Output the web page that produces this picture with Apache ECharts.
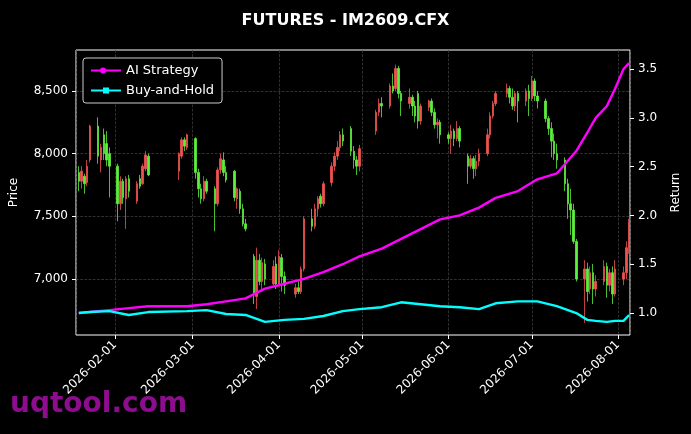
<!DOCTYPE html>
<html>
<head>
<meta charset="utf-8">
<script src="https://cdn.jsdelivr.net/npm/echarts@6/dist/echarts.min.js"></script>
<style>
  html, body { margin: 0; padding: 0; background: #000; }
  #chart { width: 691px; height: 434px; }
</style>
</head>
<body>
<div id="chart"></div>
<script>
// closed days inside the range (Spring Festival, Qingming, Labour Day, Dragon Boat)
var holidays = ["2026-02-16", "2026-02-17", "2026-02-18", "2026-02-19", "2026-02-20", "2026-02-23",
  "2026-04-06", "2026-05-01", "2026-05-04", "2026-05-05", "2026-06-19"];

// daily candles: [open, close, low, high]
var candles = [
  [7850,7780,7700,7900],[7780,7860,7720,7900],[7820,7760,7680,7840],[7770,7900,7740,7950],[7950,8220,7930,8230],
  [8220,7980,7920,8290],[7950,8050,7850,8080],[8150,8000,7950,8200],[8080,7950,7900,8180],[8000,7900,7650,8050],
  [7900,7600,7460,7920],[7600,7780,7550,7820],[7780,7650,7600,7800],[7640,7800,7400,7820],[7800,7700,7650,7830],
  [7620,7760,7600,7780],[7800,7740,7720,7830],[7760,7900,7750,7920],[7880,7990,7860,8020],[7980,7830,7820,8000],
  [7860,8000,7790,8010],[7980,8110,7960,8130],[8110,8060,8020,8130],[8050,8150,8030,8160],
  [8120,7850,7800,8130],[7850,7720,7650,7880],[7720,7640,7600,7760],[7640,7780,7620,7820],[7780,7700,7680,7800],
  [7720,7600,7380,7740],[7600,7870,7580,7890],[7870,7960,7840,8000],[7950,7850,7820,8010],[7850,7790,7770,7900],
  [7860,7650,7620,7870],[7640,7720,7560,7730],[7700,7560,7520,7720],[7560,7440,7420,7600],[7440,7400,7380,7480],
  [7180,6880,6800,7200],[6860,7150,6760,7250],[7150,6980,6950,7200],[6980,7130,6900,7170],[7120,7000,6950,7160],
  [6960,7100,6950,7150],[7120,6960,6920,7180],[6960,7180,6940,7230],[7170,7020,6900,7200],[7020,6950,6880,7060],
  [6880,6930,6850,6960],[6930,6900,6880,6980],[6900,7080,6880,7100],[7080,7480,7060,7500],
  [7480,7420,7380,7560],[7420,7560,7400,7600],[7560,7640,7500,7660],[7660,7600,7570,7680],[7600,7760,7580,7780],
  [7770,7900,7740,7930],[7900,7980,7860,8010],[7980,8050,7950,8100],[8050,8150,8020,8180],[8150,8100,8060,8200],
  [8200,8020,7980,8220],[8020,7950,7880,8060],[7950,7900,7830,7980],[7900,8040,7860,8070],
  [8180,8330,8150,8350],[8330,8400,8300,8440],[8400,8380,8290,8450],
  [8380,8540,8360,8560],[8540,8500,8480,8640],[8520,8680,8500,8710],[8680,8480,8440,8700],[8480,8420,8300,8500],
  [8400,8450,8360,8520],[8450,8380,8300,8470],[8380,8300,8250,8420],[8480,8260,8200,8500],[8260,8380,8230,8400],
  [8370,8420,8340,8430],[8420,8330,8300,8440],[8330,8230,8200,8360],[8230,8250,8120,8280],[8250,8150,8080,8270],
  [8150,8120,8080,8170],[8120,8180,8000,8230],[8180,8120,8060,8200],[8120,8200,8100,8260],[8200,8100,8050,8220],
  [7980,7900,7760,8000],[7900,7960,7880,7990],[7960,7880,7800,7980],[7880,7940,7820,7990],[7940,8000,7900,8040],
  [8000,8150,7980,8200],[8150,8300,8120,8330],[8300,8400,8280,8420],[8400,8480,8380,8500],
  [8480,8520,8450,8560],[8520,8450,8400,8540],[8450,8380,8350,8520],[8380,8480,8340,8500],[8480,8420,8250,8500],
  [8420,8500,8380,8520],[8500,8440,8300,8550],[8440,8580,8420,8620],[8580,8460,8420,8600],[8460,8420,8360,8500],
  [8420,8280,8250,8440],[8280,8200,8150,8300],[8200,8100,7970,8250],[8100,8000,7950,8160],[8000,7950,7880,8080],
  [7950,7760,7700,7970],[7760,7600,7480,7800],[7600,7550,7350,7720],[7550,7300,7280,7600],[7300,7000,6980,7320],
  [7000,7080,6650,7150],[7080,6900,6820,7130],[6920,7050,6880,7100],[7050,6920,6800,7120],[6920,6980,6860,7030],
  [6980,7100,6950,7150],[7100,6950,6850,7130],[6950,7050,6900,7080],[7050,6880,6800,7100],[6880,7080,6860,7150],
  [7000,7050,6950,7100],[7050,7250,7000,7300],[7250,7450,7200,7480]
];

// return curves, read at the dates below
var retDates = ["2026-01-19","2026-01-23","2026-01-30","2026-02-06","2026-02-13","2026-02-27","2026-03-06","2026-03-13",
  "2026-03-20","2026-03-27","2026-04-03","2026-04-10","2026-04-17","2026-04-24","2026-04-30","2026-05-08","2026-05-15",
  "2026-05-22","2026-05-29","2026-06-05","2026-06-12","2026-06-18","2026-06-26","2026-07-03","2026-07-10","2026-07-17",
  "2026-07-21","2026-07-24","2026-07-28","2026-07-31","2026-08-03","2026-08-05"];
var aiStrategy = [1.00,1.01,1.03,1.05,1.07,1.07,1.09,1.12,1.15,1.25,1.30,1.35,1.42,1.50,1.58,1.66,1.76,1.86,1.96,2.00,2.08,2.18,2.25,2.37,2.43,2.66,2.85,3.00,3.12,3.30,3.50,3.56];
var buyHold = [1.00,1.01,1.02,0.98,1.01,1.02,1.03,0.99,0.98,0.91,0.93,0.94,0.97,1.02,1.04,1.06,1.11,1.09,1.07,1.06,1.04,1.10,1.12,1.12,1.07,1.00,0.93,0.92,0.91,0.92,0.92,0.98];

var priceTicks = [7000, 7500, 8000, 8500];
var returnTicks = [1.0, 1.5, 2.0, 2.5, 3.0, 3.5];

// list trading days
var days = [];
var d = new Date(Date.UTC(2026, 0, 19));
while (days.length < candles.length) {
  var s = d.toISOString().slice(0, 10);
  var wd = d.getUTCDay();
  if (wd !== 0 && wd !== 6 && holidays.indexOf(s) < 0) days.push(s);
  d.setUTCDate(d.getUTCDate() + 1);
}

var candleData = candles.map(function (c, i) { return [days[i]].concat(c); });
var aiData = retDates.map(function (t, i) { return [t, aiStrategy[i]]; });
var bhData = retDates.map(function (t, i) { return [t, buyHold[i]]; });

var chart = echarts.init(document.getElementById("chart"));
var font = "DejaVu Sans";
chart.setOption({
  backgroundColor: "#000",
  animation: false,
  textStyle: { fontFamily: font, color: "#fff" },
  title: {
    text: "FUTURES - IM2609.CFX", left: "center", top: 8,
    textStyle: { color: "#fff", fontSize: 16, fontWeight: "bold", fontFamily: font }
  },
  graphic: [{
    type: "text", left: 10, top: 391,
    style: { text: "uqtool.com", fill: "#8e0c8e", font: "bold 28px DejaVu Sans" }
  }],
  legend: {
    orient: "vertical", left: 83, top: 58, padding: [6, 8, 6, 8], itemGap: 7,
    backgroundColor: "#000", borderColor: "#ccc", borderWidth: 1, borderRadius: 3,
    itemWidth: 30, itemHeight: 10,
    textStyle: { color: "#fff", fontSize: 13, fontFamily: font },
    data: [
      { name: "AI Strategy", icon: "path://M0,4 L30,4 L30,6 L0,6 Z M12,2 A3,3 0 1,1 12,8 A3,3 0 1,1 12,2 Z", itemStyle: { color: "#ff00ff" } },
      { name: "Buy-and-Hold", icon: "path://M0,4 L30,4 L30,6 L0,6 Z M12,2 L18,2 L18,8 L12,8 Z", itemStyle: { color: "#00ffff" } }
    ]
  },
  grid: { left: 75, right: 61, top: 50, bottom: 99, show: true, borderColor: "#fff", borderWidth: 1 },
  xAxis: {
    type: "time",
    min: "2026-01-18", max: "2026-08-05 08:00",
    splitNumber: 7,
    axisLine: { show: false },
    axisTick: { show: true, lineStyle: { color: "#fff" }, length: 4 },
    axisLabel: { color: "#fff", fontSize: 12, rotate: 45, formatter: "{yyyy}-{MM}-{dd}", hideOverlap: false },
    splitLine: { show: true, lineStyle: { color: "#444", type: "dashed", width: 0.7 } }
  },
  yAxis: [{
    type: "value", position: "left", min: 6553, max: 8827,
    name: "Price", nameLocation: "middle", nameGap: 56, nameTextStyle: { color: "#fff", fontSize: 12 },
    axisLine: { show: false },
    axisTick: { show: true, customValues: priceTicks, lineStyle: { color: "#fff" }, length: 4 },
    axisLabel: { color: "#fff", fontSize: 12, customValues: priceTicks, showMinLabel: true, showMaxLabel: true },
    splitLine: { show: true, lineStyle: { color: "#444", type: "dashed", width: 0.7 } }
  }, {
    type: "value", position: "right", min: 0.775, max: 3.695,
    name: "Return", nameLocation: "middle", nameGap: 40, nameTextStyle: { color: "#fff", fontSize: 12 },
    axisLine: { show: false },
    axisTick: { show: true, customValues: returnTicks, lineStyle: { color: "#fff" }, length: 4 },
    axisLabel: { color: "#fff", fontSize: 12, customValues: returnTicks, formatter: function (v) { return v.toFixed(1); } },
    splitLine: { show: false }
  }],
  series: [{
    name: "Price", type: "candlestick", yAxisIndex: 0, data: candleData,
    barMaxWidth: 2, barWidth: 2,
    itemStyle: { color: "#ef5350", color0: "#5cf03c", borderColor: "#ef5350", borderColor0: "#5cf03c", borderWidth: 0.8 }
  }, {
    name: "AI Strategy", type: "line", yAxisIndex: 1, data: aiData, showSymbol: false,
    lineStyle: { color: "#ff00ff", width: 2.4 }, itemStyle: { color: "#ff00ff" }, z: 5
  }, {
    name: "Buy-and-Hold", type: "line", yAxisIndex: 1, data: bhData, showSymbol: false,
    lineStyle: { color: "#00ffff", width: 2.4 }, itemStyle: { color: "#00ffff" }, z: 5
  }]
});
</script>
</body>
</html>
